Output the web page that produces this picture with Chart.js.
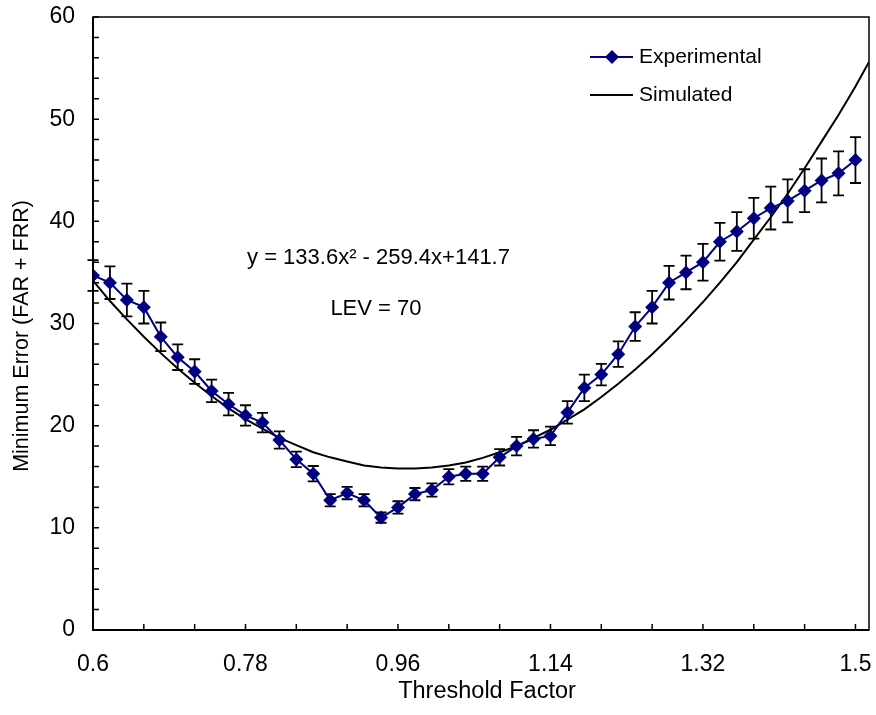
<html>
<head>
    <meta charset="utf-8">
    <script src="https://cdn.jsdelivr.net/npm/chart.js@4/dist/chart.umd.min.js"></script>
    <title>Minimum Error vs Threshold Factor</title>
    <style>
        body { margin: 0; background: #fff; }
    </style>
</head>
<body>
    <canvas id="chart" width="876" height="715"></canvas>
    <script>
        // threshold factor for each experimental point
        const thresholds = [0.60, 0.62, 0.64, 0.66, 0.68, 0.70, 0.72, 0.74, 0.76, 0.78,
                            0.80, 0.82, 0.84, 0.86, 0.88, 0.90, 0.92, 0.94, 0.96, 0.98,
                            1.00, 1.02, 1.04, 1.06, 1.08, 1.10, 1.12, 1.14, 1.16, 1.18,
                            1.20, 1.22, 1.24, 1.26, 1.28, 1.30, 1.32, 1.34, 1.36, 1.38,
                            1.40, 1.42, 1.44, 1.46, 1.48, 1.50];
        const experimental = [34.7, 34.0, 32.3, 31.6, 28.7, 26.7, 25.3, 23.4, 22.1, 21.0,
                              20.3, 18.6, 16.7, 15.3, 12.7, 13.4, 12.7, 11.0, 12.0, 13.3,
                              13.7, 15.0, 15.3, 15.3, 16.9, 18.0, 18.7, 19.0, 21.3, 23.7,
                              25.0, 27.0, 29.7, 31.6, 34.0, 35.0, 36.0, 38.0, 39.0, 40.3,
                              41.3, 42.0, 43.0, 44.0, 44.7, 46.0];
        const errors = [1.5, 1.6, 1.6, 1.6, 1.4, 1.25, 1.2, 1.1, 1.1, 1.0,
                        0.95, 0.85, 0.75, 0.75, 0.6, 0.6, 0.6, 0.5, 0.6, 0.6,
                        0.65, 0.75, 0.7, 0.7, 0.8, 0.9, 0.85, 0.9, 1.1, 1.3,
                        1.05, 1.25, 1.4, 1.6, 1.65, 1.65, 1.8, 1.85, 1.9, 2.0,
                        2.1, 2.1, 2.1, 2.15, 2.15, 2.25];

        // simulated curve
        const simX = thresholds.concat([1.516]);
        const simulated = [34.2, 32.2, 30.4, 28.7, 27.1, 25.6, 24.2, 22.9, 21.7, 20.65,
                           19.7, 18.8, 18.1, 17.4, 16.9, 16.5, 16.1, 15.9, 15.8, 15.8,
                           15.9, 16.1, 16.4, 16.85, 17.4, 18.0, 18.8, 19.6, 20.6, 21.6,
                           22.8, 24.1, 25.5, 27.0, 28.6, 30.3, 32.1, 34.0, 36.0, 38.2,
                           40.4, 42.7, 45.2, 47.8, 50.4, 53.2, 55.6];

        const xTickLabels = [0.6, 0.78, 0.96, 1.14, 1.32, 1.5];
        const xMinorTicks = [0.6, 0.66, 0.72, 0.78, 0.84, 0.90, 0.96, 1.02, 1.08,
                             1.14, 1.20, 1.26, 1.32, 1.38, 1.44, 1.50];

        const FONT = "'Liberation Sans', Arial, sans-serif";
        const NAVY = '#000080';

        const expPoints = thresholds.map((x, i) => ({ x: x, y: experimental[i] }));
        const simPoints = simX.map((x, i) => ({ x: x, y: simulated[i] }));

        // error bars, frame, inner tick marks, legend, axis titles and text notes
        const extras = {
            id: 'extras',
            beforeDatasetsDraw(chart) {
                const ctx = chart.ctx;
                const xs = chart.scales.x, ys = chart.scales.y;
                ctx.save();
                ctx.strokeStyle = '#000';
                ctx.lineWidth = 1.8;
                for (let i = 0; i < thresholds.length; i++) {
                    const px = xs.getPixelForValue(thresholds[i]);
                    const top = ys.getPixelForValue(experimental[i] + errors[i]);
                    const bot = ys.getPixelForValue(experimental[i] - errors[i]);
                    ctx.beginPath();
                    ctx.moveTo(px, top); ctx.lineTo(px, bot);
                    ctx.moveTo(px - 5.5, top); ctx.lineTo(px + 5.5, top);
                    ctx.moveTo(px - 5.5, bot); ctx.lineTo(px + 5.5, bot);
                    ctx.stroke();
                }
                ctx.restore();
            },
            afterDraw(chart) {
                const ctx = chart.ctx;
                const a = chart.chartArea;
                const xs = chart.scales.x, ys = chart.scales.y;
                ctx.save();

                // plot frame
                ctx.strokeStyle = '#000';
                ctx.lineWidth = 1.5;
                ctx.strokeRect(a.left, a.top, a.right - a.left, a.bottom - a.top);
                ctx.lineWidth = 2;
                ctx.beginPath();
                ctx.moveTo(a.left, a.top); ctx.lineTo(a.left, a.bottom); ctx.lineTo(a.right, a.bottom);
                ctx.stroke();

                // inward tick marks
                ctx.lineWidth = 1.5;
                ctx.beginPath();
                for (let v = 0; v <= 60; v += 2) {
                    const py = ys.getPixelForValue(v);
                    ctx.moveTo(a.left, py); ctx.lineTo(a.left + 6, py);
                }
                xMinorTicks.forEach(v => {
                    const px = xs.getPixelForValue(v);
                    ctx.moveTo(px, a.bottom); ctx.lineTo(px, a.bottom - 6);
                });
                ctx.stroke();

                // axis titles
                ctx.fillStyle = '#000';
                ctx.textBaseline = 'middle';
                ctx.textAlign = 'center';
                ctx.font = '23.5px ' + FONT;
                ctx.fillText('Threshold Factor', 487, 692);
                ctx.save();
                ctx.translate(22, 336);
                ctx.rotate(-Math.PI / 2);
                ctx.font = '21.5px ' + FONT;
                ctx.fillText('Minimum Error (FAR + FRR)', 0, 0);
                ctx.restore();

                // legend
                ctx.font = '21px ' + FONT;
                ctx.textAlign = 'left';
                const lx = xs.getPixelForValue(0.6) + 497, ly1 = a.top + 40, ly2 = a.top + 78;
                ctx.strokeStyle = NAVY;
                ctx.lineWidth = 2;
                ctx.beginPath(); ctx.moveTo(lx, ly1); ctx.lineTo(lx + 43, ly1); ctx.stroke();
                ctx.fillStyle = NAVY;
                ctx.beginPath();
                ctx.moveTo(lx + 22, ly1 - 7); ctx.lineTo(lx + 29, ly1);
                ctx.lineTo(lx + 22, ly1 + 7); ctx.lineTo(lx + 15, ly1);
                ctx.closePath(); ctx.fill();
                ctx.strokeStyle = '#000';
                ctx.lineWidth = 2;
                ctx.beginPath(); ctx.moveTo(lx, ly2); ctx.lineTo(lx + 43, ly2); ctx.stroke();
                ctx.fillStyle = '#000';
                ctx.fillText('Experimental', lx + 49, ly1);
                ctx.fillText('Simulated', lx + 49, ly2);

                // fit equation and LEV note
                ctx.font = '22px ' + FONT;
                ctx.textAlign = 'center';
                ctx.fillText('y = 133.6x\u00B2 - 259.4x+141.7', xs.getPixelForValue(0.937), ys.getPixelForValue(36.4));
                ctx.fillText('LEV = 70', xs.getPixelForValue(0.934), ys.getPixelForValue(31.4));
                ctx.restore();
            }
        };

        new Chart(document.getElementById('chart'), {
            type: 'line',
            data: {
                datasets: [
                    {
                        label: 'Experimental',
                        data: expPoints,
                        borderColor: NAVY,
                        backgroundColor: NAVY,
                        borderWidth: 2,
                        pointStyle: 'rectRot',
                        pointRadius: 7,
                        pointBorderWidth: 0,
                        tension: 0
                    },
                    {
                        label: 'Simulated',
                        data: simPoints,
                        borderColor: '#000',
                        borderWidth: 2,
                        pointRadius: 0,
                        tension: 0
                    }
                ]
            },
            options: {
                responsive: false,
                animation: false,
                layout: { padding: { left: 0, right: -3, top: 17, bottom: 0 } },
                plugins: {
                    legend: { display: false },
                    tooltip: { enabled: false }
                },
                scales: {
                    x: {
                        type: 'linear',
                        min: 0.6,
                        max: 1.516,
                        grid: { display: false, tickLength: 0 },
                        border: { display: false },
                        afterBuildTicks: scale => {
                            scale.ticks = xTickLabels.map(v => ({ value: v }));
                        },
                        afterFit: scale => {
                            scale.height = 85;
                            scale.paddingLeft = 0;
                            scale.paddingRight = 0;
                        },
                        ticks: {
                            autoSkip: false,
                            maxRotation: 0,
                            padding: 21,
                            color: '#000',
                            font: { family: FONT, size: 23 },
                            callback: v => String(v)
                        }
                    },
                    y: {
                        min: 0,
                        max: 60,
                        grid: { display: false, tickLength: 0 },
                        border: { display: false },
                        afterFit: scale => {
                            scale.width = 93;
                            scale.paddingTop = 0;
                            scale.paddingBottom = 0;
                        },
                        ticks: {
                            stepSize: 10,
                            padding: 18,
                            color: '#000',
                            font: { family: FONT, size: 23 }
                        }
                    }
                }
            },
            plugins: [extras]
        });
    </script>
</body>
</html>
